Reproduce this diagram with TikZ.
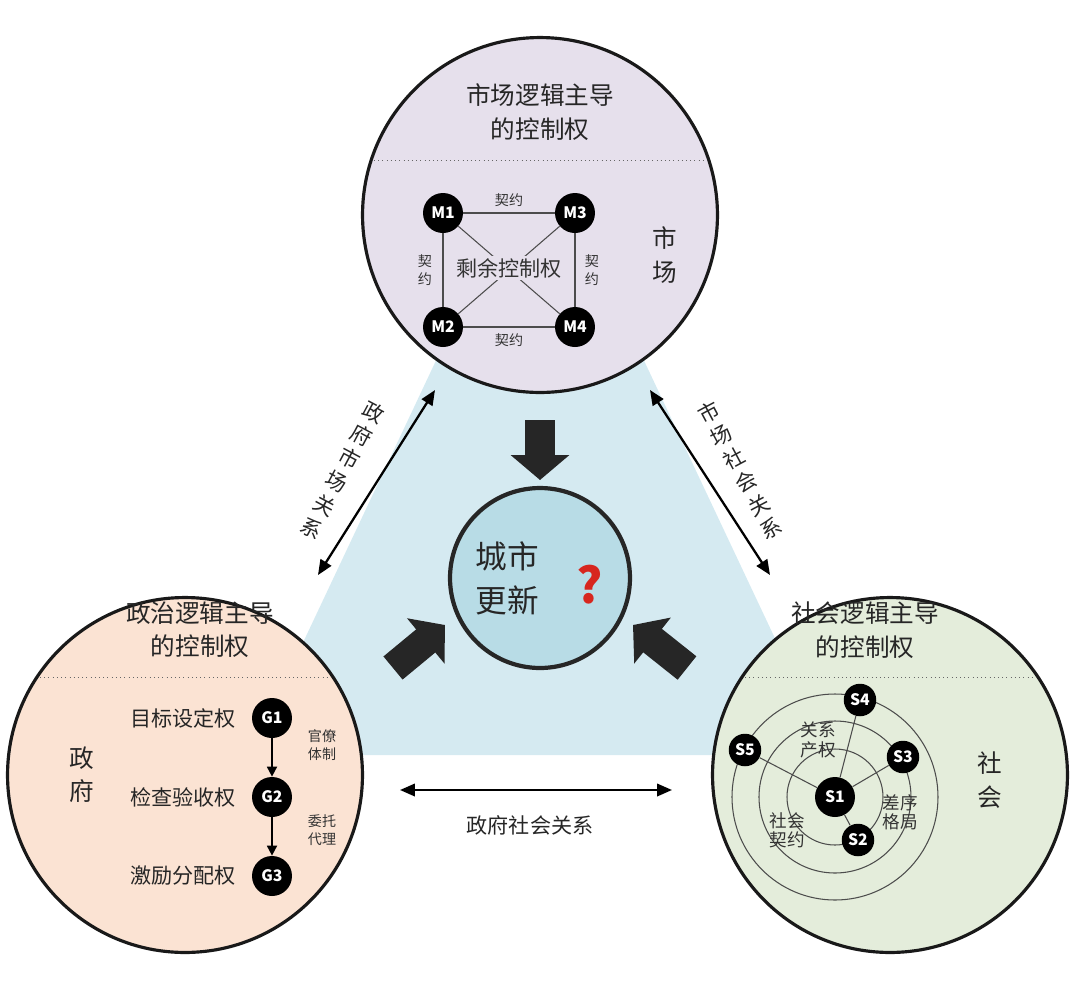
\documentclass[tikz,border=0pt]{standalone}
\usepackage{fontspec}
\setmainfont{Noto Sans CJK SC}
\usetikzlibrary{arrows.meta,positioning}
\definecolor{mktfill}{HTML}{E6E0EC}
\definecolor{govfill}{HTML}{FBE3D3}
\definecolor{socfill}{HTML}{E4EDDB}
\definecolor{midfill}{HTML}{D5EAF1}
\definecolor{corefill}{HTML}{B8DCE6}
\definecolor{qred}{HTML}{D7261E}
\tikzset{
  bigcircle/.style={circle,draw=black!90,line width=1.8pt,minimum size=7.1cm},
  actor/.style={circle,fill=black,text=white,inner sep=0pt,minimum size=0.8cm,
    font=\fontsize{9}{9}\selectfont\bfseries},
  title/.style={align=center,font=\fontsize{14}{19}\selectfont,text=black!85},
  small/.style={align=center,font=\fontsize{8}{10}\selectfont,text=black!80},
  mid/.style={align=center,font=\fontsize{12}{15}\selectfont,text=black!85},
  rel/.style={arrows={Triangle[length=3mm,width=2.5mm]-Triangle[length=3mm,width=2.5mm]},line width=1.3pt},
  fat/.style={arrows={-Triangle[length=0.5cm,width=1.15cm]},line width=0.6cm,black!85},
  thin/.style={draw=black!70,line width=0.6pt}
}
\begin{document}
\begin{tikzpicture}[x=0.02cm,y=-0.02cm]
  \useasboundingbox (0,0) rectangle (1080,985);
  % background triangle
  \fill[midfill] (540,140) -- (250,755) -- (830,755) -- cycle;
  % three big circles
  \node[bigcircle,fill=mktfill] (mkt) at (540,215) {};
  \node[bigcircle,fill=govfill] (gov) at (185,775) {};
  \node[bigcircle,fill=socfill] (soc) at (890,775) {};
  \draw[dotted,black!60] (374,160) -- (706,160);
  \draw[dotted,black!60] (40,677) -- (330,677);
  \draw[dotted,black!60] (745,677) -- (1035,677);
  % market
  \node[title] at (540,112) {市场逻辑主导\\的控制权};
  \node[actor] (m1) at (443,213) {M1};
  \node[actor] (m3) at (575,213) {M3};
  \node[actor] (m2) at (443,327) {M2};
  \node[actor] (m4) at (575,327) {M4};
  \draw[thin] (m1) -- (m3) -- (m4) -- (m2) -- (m1);
  \draw[thin] (m1) -- (m4) (m3) -- (m2);
  \node[small,fill=mktfill,inner sep=1pt] at (509,268) {\fontsize{12}{12}\selectfont 剩余控制权};
  \node[small] at (509,200) {契约};
  \node[small] at (509,340) {契约};
  \node[small] at (425,270) {契\\约};
  \node[small] at (592,270) {契\\约};
  \node[title] at (665,255) {市\\场};
  % government
  \node[title] at (200,630) {政治逻辑主导\\的控制权};
  \node[actor] (g1) at (272,718) {G1};
  \node[actor] (g2) at (272,797) {G2};
  \node[actor] (g3) at (272,876) {G3};
  \draw[-{Triangle[length=2mm,width=2mm]},line width=1pt] (g1) -- (g2);
  \draw[-{Triangle[length=2mm,width=2mm]},line width=1pt] (g2) -- (g3);
  \node[mid,left=2mm of g1] {目标设定权};
  \node[mid,left=2mm of g2] {检查验收权};
  \node[mid,left=2mm of g3] {激励分配权};
  \node[small] at (322,745) {官僚\\体制};
  \node[small] at (322,830) {委托\\代理};
  \node[title] at (82,775) {政\\府};
  % society
  \node[title] at (865,630) {社会逻辑主导\\的控制权};
  \coordinate (sc) at (835,797);
  \foreach \r in {48,76,103} \draw[thin] (sc) circle (\r);
  \node[actor] (s1) at (sc) {S1};
  \node[actor,minimum size=0.65cm] (s4) at (860,700) {S4};
  \node[actor,minimum size=0.65cm] (s3) at (903,757) {S3};
  \node[actor,minimum size=0.65cm] (s5) at (745,750) {S5};
  \node[actor,minimum size=0.65cm] (s2) at (858,840) {S2};
  \foreach \s in {s2,s3,s4,s5} \draw[thin] (s1) -- (\s);
  \node[small,font=\fontsize{10}{11}\selectfont] at (818,740) {关系\\产权};
  \node[small,font=\fontsize{10}{11}\selectfont] at (900,812) {差序\\格局};
  \node[small,font=\fontsize{10}{11}\selectfont] at (787,830) {社会\\契约};
  \node[title] at (990,780) {社\\会};
  % centre
  \node[circle,draw=black!85,line width=2.4pt,fill=corefill,minimum size=3.6cm] (core) at (540,578) {};
  \node[title,font=\fontsize{18}{25}\selectfont] at (507,578) {城市\\更新};
  \node[text=qred,font=\fontsize{28}{28}\selectfont\bfseries] at (590,585) {?};
  % relations
  \coordinate (lr1) at (435,390); \coordinate (lr2) at (318,575);
  \coordinate (rr1) at (650,390); \coordinate (rr2) at (770,575);
  \coordinate (br1) at (400,790); \coordinate (br2) at (672,790);
  \draw[rel] (lr1) -- (lr2);
  \draw[rel] (rr1) -- (rr2);
  \draw[rel] (br1) -- (br2);
  \node[mid,rotate=-28,font=\fontsize{12}{15}\selectfont] at (343,470) {政\\府\\市\\场\\关\\系};
  \node[mid,rotate=28,font=\fontsize{12}{15}\selectfont] at (740,470) {市\\场\\社\\会\\关\\系};
  \node[mid] at (530,825) {政府社会关系};
  % arrows into centre
  \coordinate (ta) at (540,420); \coordinate (tb) at (540,480);
  \coordinate (la) at (393,668); \coordinate (lb) at (445,625);
  \coordinate (ra) at (687,668); \coordinate (rb) at (633,625);
  \draw[fat] (ta) -- (tb);
  \draw[fat] (la) -- (lb);
  \draw[fat] (ra) -- (rb);
\end{tikzpicture}
\end{document}
